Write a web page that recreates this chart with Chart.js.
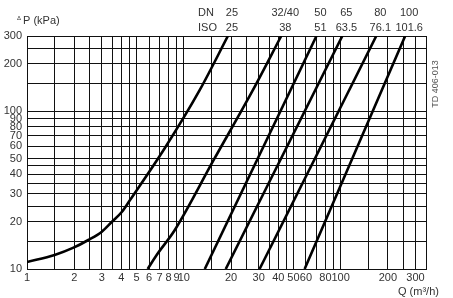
<!DOCTYPE html>
<html><head><meta charset="utf-8">
<script src="https://cdn.jsdelivr.net/npm/chart.js@4/dist/chart.umd.min.js"></script>
<style>html,body{margin:0;padding:0;background:#fff}#w{width:453px;height:298px;position:relative}</style>
</head><body><div id="w"><canvas id="c" width="453" height="298"></canvas></div>
<script>
// ---- data ----
const qGrid = [1,1.5,2,2.5,3,3.5,4,4.5,5,6,7,8,9,10,15,20,25,30,35,40,45,50,60,70,80,90,100,150,200,250,300,350];
const qLabels = [1,2,3,4,5,6,7,8,9,10,20,30,40,50,60,80,100,200,300];
const pGrid = [10,15,20,25,30,35,40,45,50,60,70,80,90,100,150,200,250,300];
const pLabels = [10,20,30,40,50,60,70,80,90,100,200,300];
const dnLabels = ['25','32/40','50','65','80','100'];
const isoLabels = ['25','38','51','63.5','76.1','101.6'];
// flow Q (m³/h) and pressure drop ΔP (kPa)
const curveQ = [
  [1,1.5,1.98,2.46,3.0,3.47,4.02,4.54,7.57,12.64,19.1],
  [5.88,6.71,8.76,15.5,27.6,41.8],
  [13.6,70.1],
  [18.5,102.5],
  [30.4,168.7],
  [58.9,257.8]
];
const curveP = [
  [11.08,12.27,13.65,15.27,17.24,19.86,22.98,27.38,58.5,136.5,300],
  [10,12.27,17.67,49.1,136.5,300],
  [10,300],
  [10,300],
  [10,300],
  [10,300]
];

const datasets = curveQ.map((qs,i)=>({
  data: qs.map((q,j)=>({x:q,y:curveP[i][j]})),
  showLine:true, pointRadius:0, borderColor:'#000', borderWidth:2.6,
  cubicInterpolationMode:'monotone', fill:false
}));

const FONT = '"Liberation Sans", Arial, sans-serif';
const textPlugin = {
  id:'texts',
  afterDraw(chart){
    const ctx = chart.ctx, xs = chart.scales.x;
    ctx.save();
    ctx.fillStyle = '#333';
    ctx.font = '11px '+FONT;
    ctx.textBaseline = 'middle';
    ctx.textAlign = 'left';
    ctx.fillText('DN', 198, 13);
    ctx.fillText('ISO', 198, 28);
    ctx.textAlign = 'center';
    curveQ.forEach((qs,i)=>{
      const x = xs.getPixelForValue(qs[qs.length-1]) + 4;
      ctx.fillText(dnLabels[i], x, 13);
      ctx.fillText(isoLabels[i], x, 28);
    });
    // axis titles
    ctx.textAlign = 'left';
    ctx.font = '6px '+FONT;
    ctx.fillText('Δ', 17, 18);
    ctx.font = '11px '+FONT;
    ctx.fillText('P (kPa)', 23, 21);
    ctx.fillText('Q (m³/h)', 398, 292);
    // side code
    ctx.translate(436, 84);
    ctx.rotate(-Math.PI/2);
    ctx.textAlign = 'center';
    ctx.font = '9px '+FONT;
    ctx.fillStyle = '#555';
    ctx.fillText('TD 406-013', 0, 0);
    ctx.restore();
  }
};

new Chart(document.getElementById('c'), {
  type:'scatter',
  data:{datasets},
  plugins:[textPlugin],
  options:{
    responsive:false, animation:false, events:[],
    layout:{padding:{top:36,right:27,left:0,bottom:0}},
    plugins:{legend:{display:false},tooltip:{enabled:false}},
    scales:{
      x:{
        type:'logarithmic', min:1, max:350,
        afterBuildTicks(s){ s.ticks = qGrid.map(v=>({value:v})); },
        afterFit(s){ s.height = 29; },
        grid:{color:'#111', lineWidth:1, drawTicks:false},
        border:{display:true,color:'#111',width:1},
        ticks:{autoSkip:false, maxRotation:0, minRotation:0, padding:2, color:'#333',
          font:{family:FONT,size:11},
          callback:(v)=> qLabels.includes(v) ? String(v) : ''}
      },
      y:{
        type:'logarithmic', min:10, max:300,
        afterBuildTicks(s){ s.ticks = pGrid.map(v=>({value:v})); },
        afterFit(s){ s.width = 27; },
        grid:{color:'#111', lineWidth:1, drawTicks:false},
        border:{display:true,color:'#111',width:1},
        ticks:{autoSkip:false, padding:5, color:'#333',
          font:{family:FONT,size:11},
          callback:(v)=> pLabels.includes(v) ? String(v) : ''}
      }
    }
  }
});
</script></body></html>
